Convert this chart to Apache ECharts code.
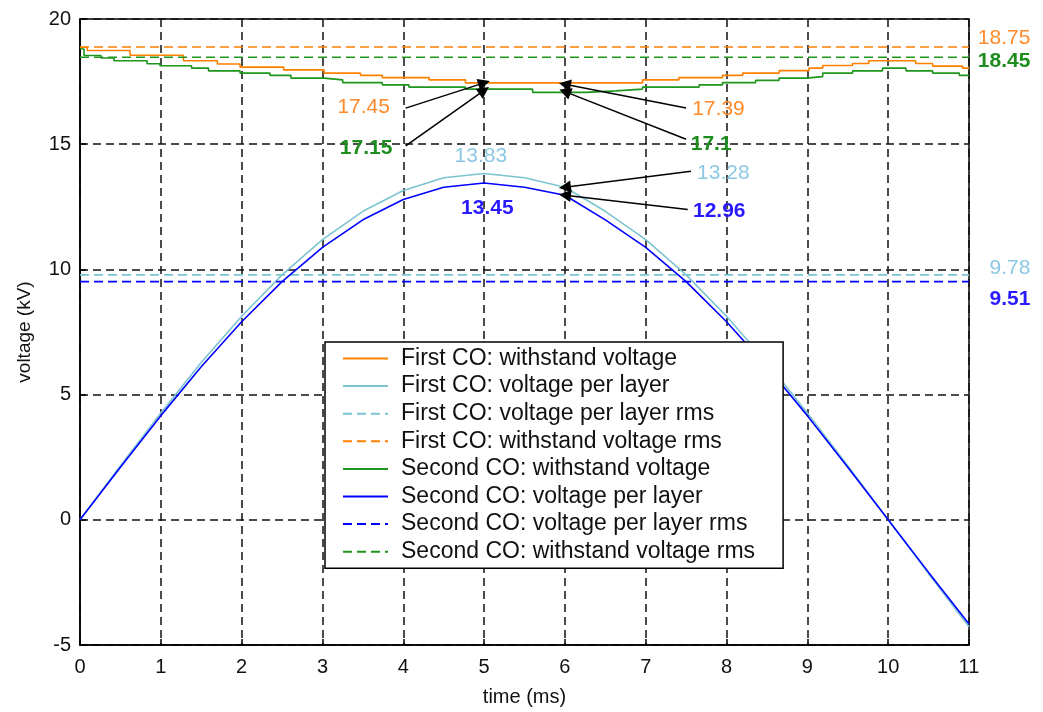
<!DOCTYPE html>
<html>
<head>
<meta charset="utf-8">
<script src="https://cdn.jsdelivr.net/npm/echarts@6/dist/echarts.min.js"></script>
<style>
html,body{margin:0;padding:0;background:#fff;}
#c{width:1043px;height:712px;}
</style>
</head>
<body>
<div id="c"></div>
<script>
// ---- data ----
const layerTime = [0,0.5,1,1.5,2,2.5,3,3.5,4,4.5,5,5.5,6,6.5,7,7.5,8,8.5,9,9.5,10,10.5,11];
const layer1 = [0,2.16,4.27,6.28,8.13,9.78,11.19,12.32,13.15,13.66,13.83,13.66,13.28,12.32,11.19,9.78,8.13,6.28,4.27,2.16,0,-2.16,-4.27];
const layer2 = [0,2.10,4.16,6.11,7.91,9.51,10.88,11.98,12.79,13.28,13.45,13.28,12.96,11.98,10.88,9.51,7.91,6.11,4.16,2.10,0,-2.10,-4.16];

const w1Time = [0,0.09,0.62,1.28,1.70,1.98,2.52,3.02,3.47,3.74,4.32,4.77,6.96,7.41,7.95,8.20,8.65,9.02,9.19,9.56,9.76,10.34,10.55,10.92,11];
const w1Volt = [18.87,18.74,18.55,18.33,18.20,18.08,17.97,17.84,17.75,17.66,17.57,17.45,17.57,17.66,17.75,17.84,17.94,18.04,18.14,18.22,18.33,18.22,18.12,18.04,18.04];

const w2Time = [0,0.05,0.26,0.42,0.83,0.99,1.38,1.59,1.98,2.35,2.61,3.02,3.25,3.74,4.07,4.77,5.60,6.26,6.63,6.96,7.66,7.95,8.36,8.65,8.98,9.19,9.56,9.93,10.22,10.55,10.88,11];
const w2Volt = [18.80,18.54,18.44,18.33,18.21,18.13,18.04,17.93,17.84,17.75,17.64,17.57,17.46,17.37,17.28,17.20,17.07,17.13,17.20,17.28,17.37,17.46,17.55,17.64,17.70,17.84,17.93,18.04,17.93,17.84,17.75,17.75];

const rmsTime = [0, 11];
const rms1Withstand = 18.88;
const rms1Layer = 9.78;
const rms2Layer = 9.51;
const rms2Withstand = 18.47;

const seriesNames = [
  'First CO: withstand voltage',
  'First CO: voltage per layer',
  'First CO: voltage per layer rms',
  'First CO: withstand voltage rms',
  'Second CO: withstand voltage',
  'Second CO: voltage per layer',
  'Second CO: voltage per layer rms',
  'Second CO: withstand voltage rms'
];

// annotation texts: [text, t, v, colorKey, bold, align]
const annoTexts = [
  ['17.45', 3.51, 16.48, 'orangeT', false, 'center'],
  ['17.15', 3.54, 14.84, 'greenT', true, 'center'],
  ['17.39', 7.90, 16.38, 'orangeT', false, 'center'],
  ['17.1', 7.81, 15.00, 'greenT', true, 'center'],
  ['13.83', 4.96, 14.52, 'lightT', false, 'center'],
  ['13.28', 7.96, 13.85, 'lightT', false, 'center'],
  ['12.96', 7.91, 12.33, 'blueT', true, 'center'],
  ['13.45', 5.04, 12.43, 'blueT', true, 'center'],
  ['18.75', 11.76, 19.22, 'orangeT', false, 'right'],
  ['18.45', 11.76, 18.31, 'greenT', true, 'right'],
  ['9.78', 11.76, 10.06, 'lightT', false, 'right'],
  ['9.51', 11.76, 8.81, 'blueT', true, 'right']
];
// arrows: [fromT, fromV, toT, toV]
const arrows = [
  [4.03, 16.44, 5, 17.45],
  [4.03, 14.93, 5, 17.15],
  [7.50, 16.45, 6, 17.39],
  [7.50, 15.20, 6, 17.10],
  [7.56, 13.92, 6, 13.28],
  [7.52, 12.39, 6, 12.96]
];

// ---- styling ----
const C = {
  orange: '#ff8000', light: '#7cc4d2', green: '#1e961e', blue: '#0000ff',
  orangeT: '#ff8a2a', lightT: '#8cc8e4', greenT: '#1e8c1e', blueT: '#2a1aff'
};
const FONT = '"Liberation Sans", Arial, sans-serif';
const dash = [9, 5];

function zip(a, b) { return a.map((x, i) => [x, b[i]]); }
function flat(v) { return rmsTime.map(t => [t, v]); }

const chart = echarts.init(document.getElementById('c'), null, {renderer: 'canvas'});

function lineSeries(name, data, color, dashed, step) {
  return {
    name, type: 'line', data, step: step || false, symbol: 'none', showSymbol: false, smooth: false,
    lineStyle: {color, width: 1.6, type: dashed ? dash : 'solid'},
    itemStyle: {color},
    emphasis: {disabled: true}, silent: true
  };
}

const series = [
  lineSeries(seriesNames[0], zip(w1Time, w1Volt), C.orange, false, 'end'),
  lineSeries(seriesNames[1], zip(layerTime, layer1), C.light, false),
  lineSeries(seriesNames[2], flat(rms1Layer), C.light, true),
  lineSeries(seriesNames[3], flat(rms1Withstand), C.orange, true),
  lineSeries(seriesNames[4], zip(w2Time, w2Volt), C.green, false, 'end'),
  lineSeries(seriesNames[5], zip(layerTime, layer2), C.blue, false),
  lineSeries(seriesNames[6], flat(rms2Layer), C.blue, true),
  lineSeries(seriesNames[7], flat(rms2Withstand), C.green, true)
];
series[5].markLine = {
  silent: true,
  symbol: ['none', 'triangle'],
  symbolSize: 12,
  label: {show: false},
  itemStyle: {color: '#000'},
  lineStyle: {color: '#000', width: 1.5, type: 'solid'},
  data: arrows.map(a => [{coord: [a[0], a[1]]}, {coord: [a[2], a[3]]}])
};

const option = {
  animation: false,
  backgroundColor: '#fff',
  grid: {left: 80, right: 74, top: 19, bottom: 65, show: true, borderColor: '#000', borderWidth: 1.5, containLabel: false},
  xAxis: {
    type: 'value', min: 0, max: 11, interval: 1,
    name: 'time (ms)', nameLocation: 'middle', nameGap: 42,
    nameTextStyle: {fontFamily: FONT, fontSize: 20, color: '#111'},
    axisLine: {show: true, onZero: false, lineStyle: {color: '#000', width: 1.5}},
    axisTick: {show: true, inside: true, length: 6, lineStyle: {color: '#000', width: 1.5}},
    axisLabel: {fontFamily: FONT, fontSize: 20, color: '#111', margin: 12},
    splitLine: {show: true, lineStyle: {color: '#111', type: [8, 5], width: 1.5}}
  },
  yAxis: {
    type: 'value', min: -5, max: 20, interval: 5,
    name: 'voltage (kV)', nameLocation: 'middle', nameGap: 46,
    nameTextStyle: {fontFamily: FONT, fontSize: 19, color: '#111'},
    axisLine: {show: true, onZero: false, lineStyle: {color: '#000', width: 1.5}},
    axisTick: {show: true, inside: true, length: 6, lineStyle: {color: '#000', width: 1.5}},
    axisLabel: {fontFamily: FONT, fontSize: 20, color: '#111', margin: 9},
    splitLine: {show: true, lineStyle: {color: '#111', type: [8, 5], width: 1.5}}
  },
  legend: {
    orient: 'vertical', left: 325, top: 342,
    data: seriesNames,
    backgroundColor: '#fff', borderColor: '#000', borderWidth: 1.5,
    padding: [5, 28, 5, 17],
    itemWidth: 45, itemHeight: 14, itemGap: 4.6,
    selectedMode: false,
    itemStyle: {opacity: 0},
    textStyle: {fontFamily: FONT, fontSize: 23, color: '#111', lineHeight: 20, padding: [0, 0, 0, 8]}
  },
  series
};
chart.setOption(option);

chart.setOption({
  graphic: annoTexts.map(a => {
    const p = chart.convertToPixel({gridIndex: 0}, [a[1], a[2]]);
    return {
      type: 'text', x: p[0], y: p[1], silent: true, z: 100,
      style: {
        text: a[0], fill: C[a[3]], fontFamily: FONT, fontSize: 21,
        fontWeight: a[4] ? 'bold' : 'normal',
        align: a[5], verticalAlign: 'middle'
      }
    };
  })
});
</script>
</body>
</html>
